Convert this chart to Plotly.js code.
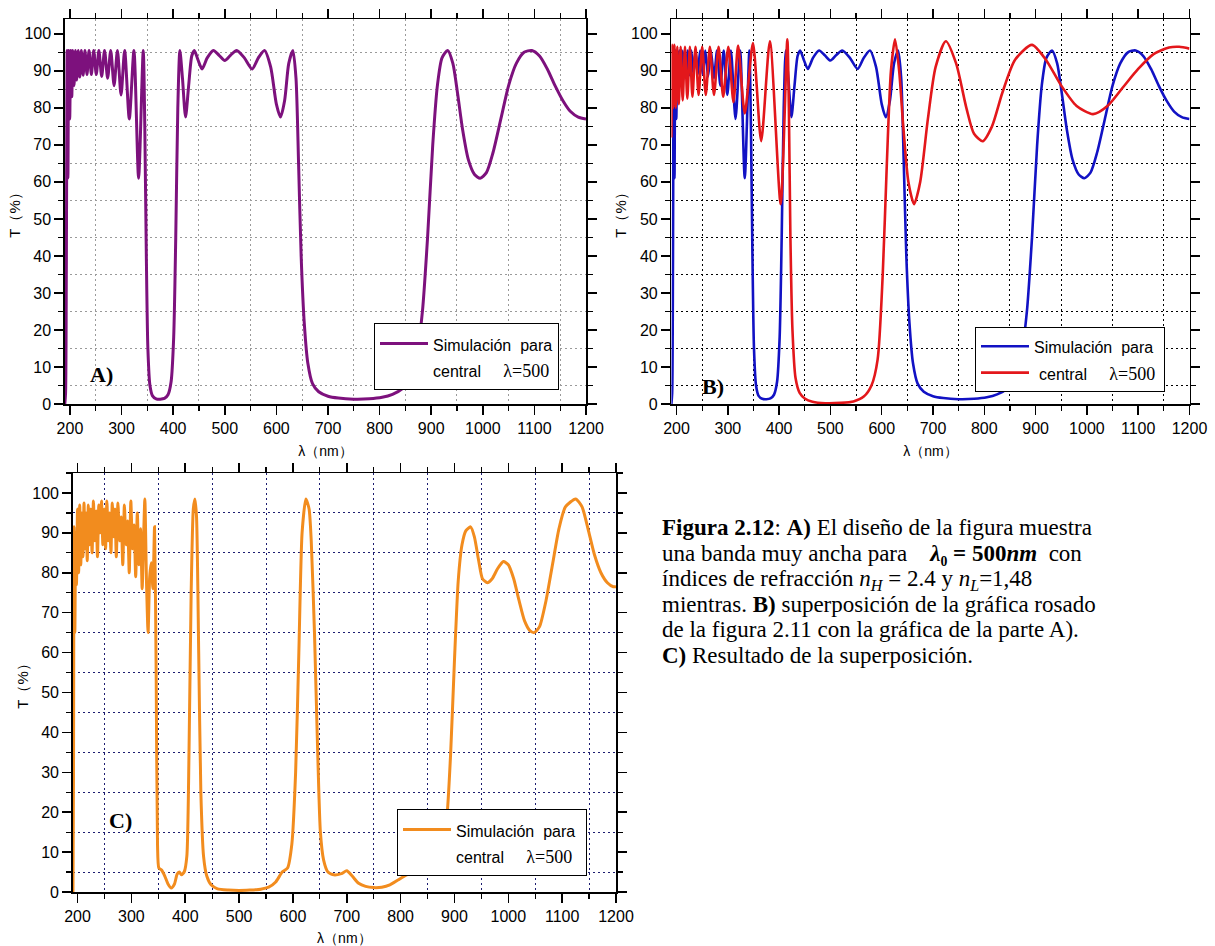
<!DOCTYPE html>
<html>
<head>
<meta charset="utf-8">
<script src="https://cdn.plot.ly/plotly-3.0.1.min.js"></script>
<style>html,body{margin:0;padding:0;background:#fff;}#chart{width:1215px;height:946px;}</style>
</head>
<body>
<div id="chart"></div>
<script>
// ---- Data ----
// Panel A (purple) and panel B (blue): same design, lambda0 = 500 nm
const lambdaA = [190,191.5,193,194.5,196,197.5,199.5,201.5,203.5,205.5,208,210.5,213,216,219,222,225.5,229,233,237,241.5,246,251,256,261.5,267,273,279,285.5,292,299,306,315,324,333,342,345,348,351,355,360,367,375,383,390,396,401,405,409,413,418,424,430,436,441,448,456,466,478,489,500,511,523,538,553,565,577,589,600,608,616,624,632,638,643,648,654,661,670,682,700,720,750,780,805,825,845,860,872,883,893,903,912,921,932,942,951,961,972,984,995,1007,1020,1035,1050,1065,1080,1095,1110,1125,1140,1155,1170,1185,1200];
const transA = [0,3,37,95.5,61,95.5,77,95.5,83,95.5,86,95.5,87.5,95.5,88.3,95.5,88.8,95.5,89,95.5,89,95.5,89,95.5,88.5,95.5,88,95.5,86,95.5,83.5,95.5,77,95.5,61,95.5,75,40,15,5,2.2,1.4,1.3,1.5,2.5,6,18,45,80,95.5,88,77.5,86,94,95.5,93,90.5,93.5,95.5,94.2,92.8,94.2,95.5,93.5,90.5,93.5,95.5,91,81,77.5,82,92,95.5,88,65,40,22,11,5.5,3.3,2.1,1.6,1.3,1.4,1.8,2.6,4.2,7,13,25,45,70,86,93.5,95.5,92,84,74,66,62,61,62.5,68,77,86,92,95,95.5,94,90.5,86,82,79,77.5,77];

// Panel B (red): graph of figure 2.11 overlaid
const lambdaR = [190,191.5,193.5,196,198.5,201.5,204.5,208,212,216.5,221,226,231,237,243,250,257,265,273,282,291,301,311,320,333,349,365,382,403,416,419,422,426,432,440,450,465,490,520,545,565,580,592,602,610,618,626,634,642,652,663,675,690,705,725,745,765,780,797,815,835,860,893,920,950,980,1012,1040,1070,1100,1130,1160,1180,1200];
const transR = [72,97,80,97,80,96.5,81,96.5,82,96.5,82.5,96.5,83,96.5,83.5,96.5,83.5,96.5,83.5,96.5,83,96.5,81.5,96.8,78.5,97.5,71,98,54,98.5,80,45,20,7,3,1.5,0.6,0.2,0.3,0.7,2,5,12,35,65,90,98.5,90,75,60,54,60,77,91,98,92,80,73,71,75,84,93,97,93,86,80.5,78.3,80.5,85.5,90.5,94.5,96.3,96.5,96];

// Panel C (orange): result of the superposition
const lambdaC = [191.5,192.5,193.5,195,196.5,198,200,202,204,206,208,210,212,214,216,218,220,222,224.5,227,229.5,232,234.5,237,239.5,242,244.5,247,249.5,252,254.5,257,259.5,262,264.5,267,269.5,272,275,278,281,284,287,290,293,296,299,302,305,308,311,314,317,320,322.5,325,328,331,334,337,340,343,346,348.5,351,356,362,368,374,380,385,389,393,398,403,407,411,415,418,421,425,429,434,440,448,460,480,500,520,540,555,568,580,590,598,605,611,617,624,630,634,640,646,651,657,665,676,690,700,710,722,735,750,765,780,795,810,825,840,855,868,878,886,893,900,907,914,921,930,937,945,952,961,970,980,991,1000,1010,1020,1030,1040,1048,1058,1070,1082,1094,1106,1125,1137,1148,1160,1172,1184,1195,1200];
const transC = [0,30,91.5,65,90,77,96,80,97,82,95,84,97.5,86,95,83,97,87,96,85,98,88,95.5,84,97,90,98,87,96,86,98,88,95,85,97.5,89,96,84,97.5,88,94,82,97,87,93,80,98,86,92,79,95,82,91,76,88,98.5,78,65,79,82.5,76,91.5,55,12,6,5.5,4,2,1,2,4.5,5,4.3,5,9,35,75,96,98.5,94,60,25,9,4,1.8,0.8,0.5,0.4,0.5,0.7,1.2,2.5,5,6,12,30,60,90,98.5,96,88,65,35,15,8,5,4.3,4.6,5.3,4,2.2,1.4,1.1,1.2,1.8,3,4.2,5,5.5,6,8,13,19,35,58,78,87,90.5,91.5,89,83,78.5,77.5,78.5,81,82.8,82,78.5,73,68,65.5,65,66.5,73,82,91,96.5,98.5,96.5,91,84.5,80,77.5,76.5,76.5];

// Tick / label texts
const xTitle = 'λ（nm）';
const yTitle = 'T（%）';
const legendLine1 = '<span style="font-size:16px">Simulación\u00a0\u00a0para</span>';
const legendLine2 = '<span style="font-size:16px">central\u00a0\u00a0\u00a0\u00a0\u00a0</span><span style="font-family:Liberation Serif;font-size:18px">λ=500</span>';
const panelLabels = ['A)', 'B)', 'C)'];
const captionLines = [
  '<b>Figura 2.12</b>: <b>A)</b> El diseño de la figura muestra',
  'una banda muy ancha para \u00a0\u00a0 <b><i>λ</i>₀ = 500<i>nm</i></b> \u00a0con',
  'índices de refracción <i>n</i><sub><i>H</i></sub> = 2.4 y <i>n</i><sub><i>L</i></sub>=1,48',
  'mientras. <b>B)</b> superposición de la gráfica rosado',
  'de la figura 2.11 con la gráfica de la parte A).',
  '<b>C)</b> Resultado de la superposición.'
];

// ---- Layout helpers ----
const W = 1215, H = 946;
const px = v => v / W;
const py = v => 1 - v / H;

function xAxis(range, d0, d1, anchor, gridColor) {
  return {
    range: range, domain: [px(d0), px(d1)], anchor: anchor,
    showline: true, linecolor: '#000', linewidth: 1.5, mirror: 'ticks',
    ticks: 'outside', ticklen: 9, tickwidth: 1.5, tickcolor: '#000',
    tick0: 0, dtick: 100, showgrid: false, zeroline: false,
    minor: {dtick: 50, tick0: 0, ticks: 'outside', ticklen: 5, tickwidth: 1.2, tickcolor: '#000',
            showgrid: true, gridcolor: gridColor, griddash: '2px,3px', gridwidth: 1},
    tickfont: {family: 'Liberation Sans, Arial, sans-serif', size: 16, color: '#000'},
    title: {text: xTitle, font: {family: 'Liberation Sans, Arial, sans-serif', size: 14, color: '#000'}, standoff: 10}
  };
}
function yAxis(range, d0, d1, anchor, gridColor) {
  return {
    range: range, domain: [py(d0), py(d1)], anchor: anchor,
    showline: true, linecolor: '#000', linewidth: 1.5, mirror: 'ticks',
    ticks: 'outside', ticklen: 9, tickwidth: 1.5, tickcolor: '#000',
    tick0: 0, dtick: 10, showgrid: false, zeroline: false,
    minor: {dtick: 5, tick0: 0, ticks: 'outside', ticklen: 5, tickwidth: 1.2, tickcolor: '#000',
            showgrid: true, gridcolor: gridColor, griddash: '2px,3px', gridwidth: 1},
    tickfont: {family: 'Liberation Sans, Arial, sans-serif', size: 16, color: '#000'},
    title: {text: yTitle, font: {family: 'Liberation Sans, Arial, sans-serif', size: 15, color: '#000'}, standoff: 0}
  };
}
function legendBox(left, top, size) {
  return {
    x: px(left), y: py(top), xref: 'paper', yref: 'paper', xanchor: 'left', yanchor: 'top',
    bgcolor: '#ffffff', bordercolor: '#000', borderwidth: 1, valign: 'top',
    font: {family: 'Liberation Sans, Arial, sans-serif', size: size, color: '#000'},
    itemwidth: 48, tracegroupgap: 0
  };
}

const traces = [
  {x: lambdaA, y: transA, xaxis: 'x', yaxis: 'y', type: 'scatter', mode: 'lines',
   name: legendLine1 + '<br>' + legendLine2, legend: 'legend',
   line: {color: '#7d117d', width: 3, shape: 'spline', smoothing: 0.7}},
  {x: lambdaA, y: transA, xaxis: 'x2', yaxis: 'y2', type: 'scatter', mode: 'lines',
   name: legendLine1 + '\u00a0', legend: 'legend2',
   line: {color: '#1212c4', width: 2.6, shape: 'spline', smoothing: 0.7}},
  {x: lambdaR, y: transR, xaxis: 'x2', yaxis: 'y2', type: 'scatter', mode: 'lines',
   name: '\u00a0' + legendLine2, legend: 'legend2',
   line: {color: '#e3171b', width: 2.6, shape: 'spline', smoothing: 0.7}},
  {x: lambdaC, y: transC, xaxis: 'x3', yaxis: 'y3', type: 'scatter', mode: 'lines',
   name: legendLine1 + '\u00a0<br>' + legendLine2, legend: 'legend3',
   line: {color: '#f28c1e', width: 3, shape: 'spline', smoothing: 0.6}}
];

const annotations = [];
const labelPos = [{x: 262, y: 8, xr: 'x', yr: 'y'}, {x: 272, y: 4.8, xr: 'x2', yr: 'y2'}, {x: 280, y: 18, xr: 'x3', yr: 'y3'}];
panelLabels.forEach((t, i) => {
  annotations.push({text: '<b>' + t + '</b>', x: labelPos[i].x, y: labelPos[i].y, xref: labelPos[i].xr, yref: labelPos[i].yr,
    showarrow: false, font: {family: 'Liberation Serif, Times New Roman, serif', size: 22, color: '#000'}});
});
// Caption: one text block; base size sets the line pitch, inner span sets the glyph size
const captionSize = 23, captionPitch = 25.5;
annotations.push({
  text: captionLines.map(l => '<span style="font-size:' + captionSize + 'px">' + l + '</span>').join('<br>'),
  x: px(660), y: py(528 + 2.5 * captionPitch), xref: 'paper', yref: 'paper', xanchor: 'left', yanchor: 'middle',
  align: 'left', showarrow: false,
  font: {family: 'Liberation Serif, Times New Roman, serif', size: captionPitch / 1.3, color: '#000'}
});

const layout = {
  width: W, height: H, margin: {l: 0, r: 0, t: 0, b: 0},
  paper_bgcolor: '#fff', plot_bgcolor: '#fff', showlegend: true,
  font: {family: 'Liberation Sans, Arial, sans-serif', color: '#000'},
  xaxis: xAxis([190, 1200], 64.8, 586, 'y', '#9a9a9a'),
  yaxis: yAxis([0, 104], 404, 19, 'x', '#9a9a9a'),
  xaxis2: xAxis([190, 1200], 671.4, 1189.5, 'y2', '#000000'),
  yaxis2: yAxis([0, 104], 404, 19, 'x2', '#000000'),
  xaxis3: xAxis([191, 1200], 72.7, 616, 'y3', '#1c1c70'),
  yaxis3: yAxis([0, 105], 892, 473, 'x3', '#1c1c70'),
  legend: legendBox(374, 323, 20),
  legend2: legendBox(975, 327, 18),
  legend3: legendBox(397, 809, 20),
  annotations: annotations
};

Plotly.newPlot('chart', traces, layout, {staticPlot: true, displayModeBar: false});
</script>
</body>
</html>
